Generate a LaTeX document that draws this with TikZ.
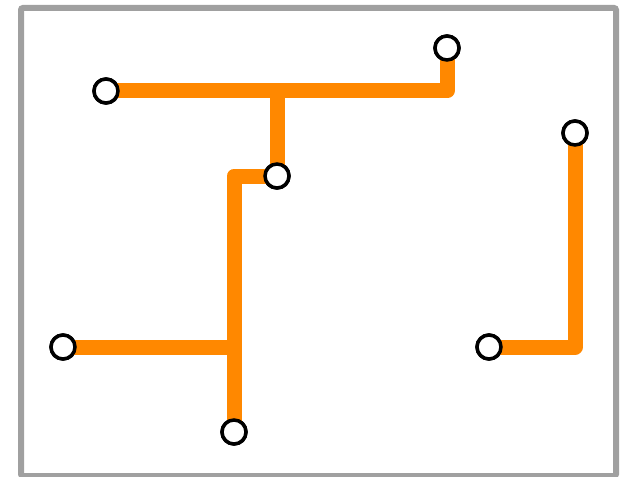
\documentclass[tikz,border=0pt]{standalone}
\begin{document}
\begin{tikzpicture}[x=1pt,y=-1pt,
  stop/.style={circle,draw=black,fill=white,line width=3.5pt,minimum size=24pt,inner sep=0pt},
  route/.style={draw={rgb,255:red,255;green,136;blue,0},line width=15pt,line join=round}]
\useasboundingbox (0,0) rectangle (628,476);
\draw[line width=6pt,draw={rgb,255:red,160;green,160;blue,160},rounded corners=2pt] (21,8) rectangle (616,476);
\coordinate (c1) at (447,91);
\coordinate (j1) at (277,91);
\coordinate (c2) at (234,176);
\coordinate (j2) at (234,347);
\coordinate (c3) at (575,347);
\node[stop] (a) at (106,91) {};
\node[stop] (b) at (447,48) {};
\node[stop] (c) at (277,176) {};
\node[stop] (d) at (63,347) {};
\node[stop] (e) at (234,432) {};
\node[stop] (f) at (489,347) {};
\node[stop] (g) at (575,133) {};
\path[route] (a.center) -- (c1) -- (b.center);
\path[route] (j1) -- (c.center);
\path[route] (c.center) -- (c2) -- (e.center);
\path[route] (d.center) -- (j2);
\path[route] (f.center) -- (c3) -- (g.center);
\foreach \n in {a,b,c,d,e,f,g} \node[stop] at (\n) {};
\end{tikzpicture}
\end{document}
